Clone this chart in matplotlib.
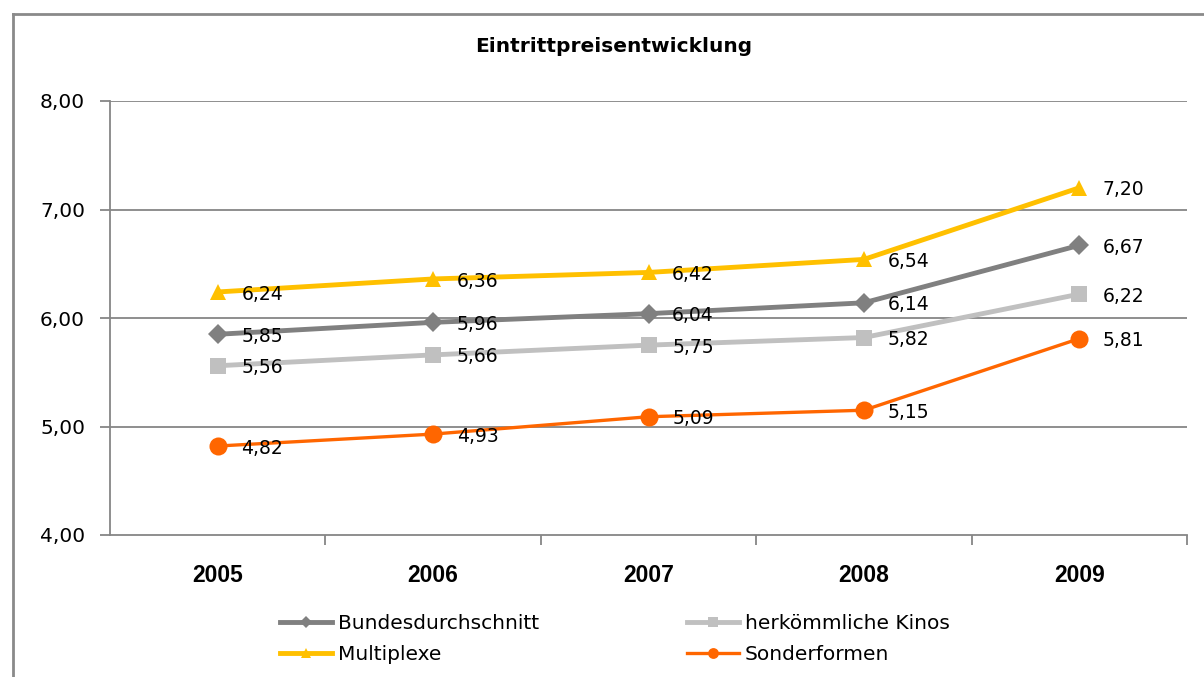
import matplotlib
matplotlib.use("Agg")
import matplotlib.pyplot as plt
from matplotlib.lines import Line2D
from matplotlib.ticker import FixedLocator

years = ["2005", "2006", "2007", "2008", "2009"]
bundesdurchschnitt = [5.85, 5.96, 6.04, 6.14, 6.67]
herkoemmliche = [5.56, 5.66, 5.75, 5.82, 6.22]
multiplexe = [6.24, 6.36, 6.42, 6.54, 7.20]
sonderformen = [4.82, 4.93, 5.09, 5.15, 5.81]
series_names = ["Bundesdurchschnitt", "herkömmliche Kinos", "Multiplexe", "Sonderformen"]
title = "Eintrittpreisentwicklung"
yticks = [4, 5, 6, 7, 8]

W, H = 1204, 677
fig = plt.figure(figsize=(W / 100, H / 100), dpi=100)
plt.rcParams['font.family'] = ['DejaVu Sans']

ax = fig.add_axes([110 / W, 1 - 535 / H, (1187 - 110) / W, (535 - 101) / H])

grid_col = "#868686"
styles = [
    (bundesdurchschnitt, "#808080", "D", 10, 3.5),
    (herkoemmliche, "#C0C0C0", "s", 11, 3.5),
    (multiplexe, "#FFC000", "^", 12, 3.5),
    (sonderformen, "#FF6600", "o", 13, 2.4),
]
x = list(range(len(years)))
handles = []
for (vals, col, mk, ms, lw), name in zip(styles, series_names):
    ax.plot(x, vals, color=col, lw=lw, marker=mk, markersize=ms,
            markeredgewidth=0, zorder=3, solid_capstyle='round')
    for xi, v in zip(x, vals):
        ax.annotate(f"{v:.2f}".replace(".", ","), (xi, v), xytext=(17, -1.5),
                    textcoords="offset points", ha="left", va="center",
                    fontsize=13.5, color="black", zorder=4)
    handles.append(Line2D([], [], color=col, lw=lw, marker=mk,
                          markersize=ms * 0.6, markeredgewidth=0))

ax.set_xlim(-0.5, len(years) - 0.5)
ax.set_ylim(4, 8)
ax.set_yticks(yticks)
ax.set_yticklabels([f"{t:.2f}".replace(".", ",") for t in yticks], fontsize=14.5)
for t in yticks[1:]:
    ax.axhline(t, color=grid_col, lw=1.3, zorder=1)

ax.set_xticks(x)
ax.set_xticklabels(years, fontsize=16.5, fontweight="bold", family=["Liberation Sans", "DejaVu Sans"])
ax.xaxis.set_minor_locator(FixedLocator([i + 0.5 for i in range(len(years))]))
ax.tick_params(axis="x", which="major", length=0, pad=21)
ax.tick_params(axis="x", which="minor", length=7, width=1.3, color=grid_col, direction="out")
ax.tick_params(axis="y", length=7, width=1.3, color=grid_col, direction="out", pad=11)

for s in ["top", "right"]:
    ax.spines[s].set_visible(False)
for s in ["left", "bottom"]:
    ax.spines[s].set_color(grid_col)
    ax.spines[s].set_linewidth(1.3)

fig.text(614 / W, 1 - 46 / H, title, ha="center", va="center",
         fontsize=14.5, fontweight="bold")

order = [0, 2, 1, 3]
leg = fig.legend([handles[i] for i in order], [series_names[i] for i in order],
                 ncol=2, loc="center left", bbox_to_anchor=(280 / W, 1 - 639 / H),
                 frameon=False, fontsize=14.5, handlelength=2.6, handletextpad=0.3,
                 columnspacing=7.3, labelspacing=0.6, borderpad=0, borderaxespad=0)

# outer chart border (extends beyond the image to the right and bottom)
fig.add_artist(Line2D([13 / W, 1.01], [1 - 14 / H, 1 - 14 / H], transform=fig.transFigure,
                      color="#8a8a8a", lw=2))
fig.add_artist(Line2D([13 / W, 13 / W], [1 - 14 / H, -0.01], transform=fig.transFigure,
                      color="#8a8a8a", lw=2))

fig.savefig("out.png", dpi=100)
